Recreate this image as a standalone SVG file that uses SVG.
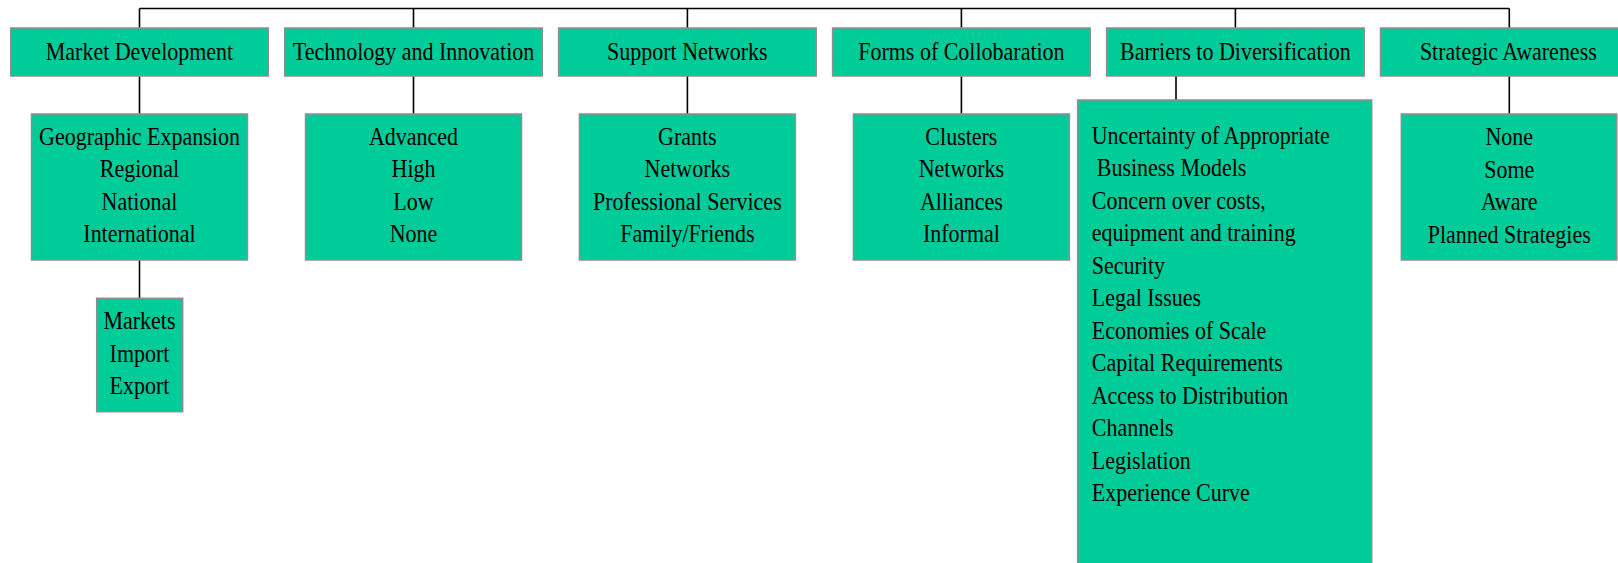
<svg xmlns="http://www.w3.org/2000/svg" width="1618" height="563" viewBox="0 0 1618 563">
<style>
.box{fill:#00cc99;stroke:#8f8f8f;stroke-width:1.5}
.t{font-family:"Liberation Serif","Times New Roman",serif;font-size:25px;fill:#000}
.c{text-anchor:middle}
.con{stroke:#000;stroke-width:1.6;fill:none}
</style>
<rect width="1618" height="563" fill="#fff"/>
<g id="connectors" class="con">
<path d="M139.5 8.5H1509.3"/>
<path d="M139.5 8.5V28M413.5 8.5V28M687.4 8.5V28M961.4 8.5V28M1235.4 8.5V28M1509.3 8.5V28"/>
<path d="M139.5 76V114M413.5 76V114M687.4 76V114M961.4 76V114M1176 76V100M1509.3 76V114"/>
<path d="M139.5 260V298.3"/>
</g>
<g id="market-development">
<rect class="box" x="10.7" y="28" width="257.6" height="48"/>
<text class="t c" transform="scale(0.88 1)" x="158.5" y="60">Market Development</text>
</g>
<g id="technology-innovation">
<rect class="box" x="284.7" y="28" width="257.6" height="48"/>
<text class="t c" transform="scale(0.88 1)" x="469.9" y="60">Technology and Innovation</text>
</g>
<g id="support-networks">
<rect class="box" x="558.6" y="28" width="257.6" height="48"/>
<text class="t c" transform="scale(0.88 1)" x="781.1" y="60">Support Networks</text>
</g>
<g id="forms-collaboration">
<rect class="box" x="832.6" y="28" width="257.6" height="48"/>
<text class="t c" transform="scale(0.88 1)" x="1092.5" y="60">Forms of Collobaration</text>
</g>
<g id="barriers">
<rect class="box" x="1106.6" y="28" width="257.6" height="48"/>
<text class="t c" transform="scale(0.88 1)" x="1403.9" y="60">Barriers to Diversification</text>
</g>
<g id="strategic-awareness">
<rect class="box" x="1380.5" y="28" width="257.6" height="48"/>
<text class="t c" transform="scale(0.88 1)" x="1714" y="60">Strategic Awareness</text>
</g>
<g id="geographic-expansion">
<rect class="box" x="31.5" y="114" width="216" height="146"/>
<text class="t c" transform="scale(0.88 1)" x="158.5" y="145">Geographic Expansion</text>
<text class="t c" transform="scale(0.88 1)" x="158.5" y="177.5">Regional</text>
<text class="t c" transform="scale(0.88 1)" x="158.5" y="210">National</text>
<text class="t c" transform="scale(0.88 1)" x="158.5" y="242.5">International</text>
</g>
<g id="markets">
<rect class="box" x="96.7" y="298.3" width="86" height="113.4"/>
<text class="t c" transform="scale(0.88 1)" x="158.5" y="329.3">Markets</text>
<text class="t c" transform="scale(0.88 1)" x="158.5" y="361.8">Import</text>
<text class="t c" transform="scale(0.88 1)" x="158.5" y="394.3">Export</text>
</g>
<g id="technology-levels">
<rect class="box" x="305.5" y="114" width="216" height="146"/>
<text class="t c" transform="scale(0.88 1)" x="469.9" y="145">Advanced</text>
<text class="t c" transform="scale(0.88 1)" x="469.9" y="177.5">High</text>
<text class="t c" transform="scale(0.88 1)" x="469.9" y="210">Low</text>
<text class="t c" transform="scale(0.88 1)" x="469.9" y="242.5">None</text>
</g>
<g id="support-types">
<rect class="box" x="579.4" y="114" width="216" height="146"/>
<text class="t c" transform="scale(0.88 1)" x="781.1" y="145">Grants</text>
<text class="t c" transform="scale(0.88 1)" x="781.1" y="177.5">Networks</text>
<text class="t c" transform="scale(0.88 1)" x="781.1" y="210">Professional Services</text>
<text class="t c" transform="scale(0.88 1)" x="781.1" y="242.5">Family/Friends</text>
</g>
<g id="collaboration-types">
<rect class="box" x="853.4" y="114" width="216" height="146"/>
<text class="t c" transform="scale(0.88 1)" x="1092.5" y="145">Clusters</text>
<text class="t c" transform="scale(0.88 1)" x="1092.5" y="177.5">Networks</text>
<text class="t c" transform="scale(0.88 1)" x="1092.5" y="210">Alliances</text>
<text class="t c" transform="scale(0.88 1)" x="1092.5" y="242.5">Informal</text>
</g>
<g id="barrier-list">
<rect class="box" x="1077.7" y="100" width="294" height="470"/>
<text class="t" transform="scale(0.88 1)" x="1240.6" y="144">Uncertainty of Appropriate</text>
<text class="t" transform="scale(0.88 1)" x="1246.3" y="176.5">Business Models</text>
<text class="t" transform="scale(0.88 1)" x="1240.6" y="209">Concern over costs,</text>
<text class="t" transform="scale(0.88 1)" x="1240.6" y="241.5">equipment and training</text>
<text class="t" transform="scale(0.88 1)" x="1240.6" y="274">Security</text>
<text class="t" transform="scale(0.88 1)" x="1240.6" y="306.5">Legal Issues</text>
<text class="t" transform="scale(0.88 1)" x="1240.6" y="339">Economies of Scale</text>
<text class="t" transform="scale(0.88 1)" x="1240.6" y="371.5">Capital Requirements</text>
<text class="t" transform="scale(0.88 1)" x="1240.6" y="404">Access to Distribution</text>
<text class="t" transform="scale(0.88 1)" x="1240.6" y="436.5">Channels</text>
<text class="t" transform="scale(0.88 1)" x="1240.6" y="469">Legislation</text>
<text class="t" transform="scale(0.88 1)" x="1240.6" y="501.5">Experience Curve</text>
</g>
<g id="awareness-levels">
<rect class="box" x="1401.3" y="114" width="215.5" height="146"/>
<text class="t c" transform="scale(0.88 1)" x="1715.1" y="145.5">None</text>
<text class="t c" transform="scale(0.88 1)" x="1715.1" y="178">Some</text>
<text class="t c" transform="scale(0.88 1)" x="1715.1" y="210.5">Aware</text>
<text class="t c" transform="scale(0.88 1)" x="1715.1" y="243">Planned Strategies</text>
</g>
</svg>
